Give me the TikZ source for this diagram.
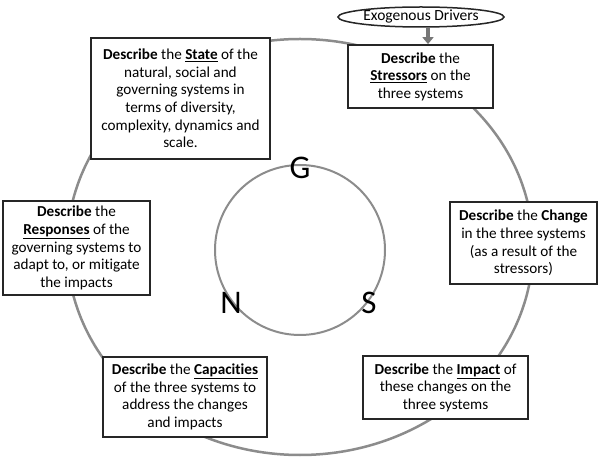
\documentclass[tikz,border=0pt]{standalone}
\usepackage{fontspec}
\setmainfont[Ligatures={NoCommon}]{Carlito}
\usetikzlibrary{arrows.meta,shapes.geometric}
\definecolor{ringgray}{HTML}{8C8C8C}
\definecolor{boxline}{HTML}{262626}
\begin{document}
\begin{tikzpicture}[x=1pt,y=-1pt,
  descbox/.style={draw=boxline,line width=1.8pt,fill=white,align=center,inner sep=0pt,
     font=\fontsize{15.2}{17.6}\selectfont},
  letter/.style={font=\fontsize{33}{36}\selectfont,inner sep=0pt}]
\useasboundingbox (0,0) rectangle (600,470);
\fill[white] (0,0) rectangle (600,470);
% rings
\node[draw=ringgray,line width=2.5pt,ellipse,minimum width=466pt,minimum height=416pt,inner sep=0pt] (outer) at (300,247) {};
\node[draw=ringgray,line width=2pt,circle,minimum size=170pt,inner sep=0pt] (inner) at (300,250) {};
\node[letter] (G) at (300,168) {G};
\node[letter] (N) at (231,303) {N};
\node[letter] (S) at (369,303) {S};
% boxes
\node[descbox,minimum width=179pt,minimum height=121pt] (state) at (180.5,98.5)
 {\textbf{Describe} the \underline{\textbf{State}} of the\\natural, social and\\governing systems in\\terms of diversity,\\complexity, dynamics and\\scale.};
\node[descbox,minimum width=145pt,minimum height=63pt] (stress) at (420.5,76.5)
 {\textbf{Describe} the\\\underline{\textbf{Stressors}} on the\\three systems};
\node[descbox,minimum width=147pt,minimum height=94pt] (resp) at (76.5,248)
 {\textbf{Describe} the\\\underline{\textbf{Responses}} of the\\governing systems to\\adapt to, or mitigate\\the impacts};
\node[descbox,minimum width=147pt,minimum height=82pt] (change) at (523.5,243)
 {\textbf{Describe} the \textbf{Change}\\in the three systems\\(as a result of the\\stressors)};
\node[descbox,minimum width=164pt,minimum height=80pt] (cap) at (185,397)
 {\textbf{Describe} the \underline{\textbf{Capacities}}\\of the three systems to\\address the changes\\and impacts};
\node[descbox,minimum width=165pt,minimum height=63pt] (impact) at (445.5,387.5)
 {\textbf{Describe} the \underline{\textbf{Impact}} of\\these changes on the\\three systems};
% exogenous drivers
\node[draw=boxline,line width=1.5pt,ellipse,minimum width=166pt,minimum height=20pt,inner sep=0pt,
  font=\fontsize{15.5}{17}\selectfont] (exo) at (421,17) {Exogenous Drivers};
\draw[ringgray!85!black,line width=4pt,-{Triangle[width=11pt,length=7pt]}]
  (exo.south -| stress.north) ++(7.5,0) coordinate (a1) -- (a1 |- stress.north);
\end{tikzpicture}
\end{document}
